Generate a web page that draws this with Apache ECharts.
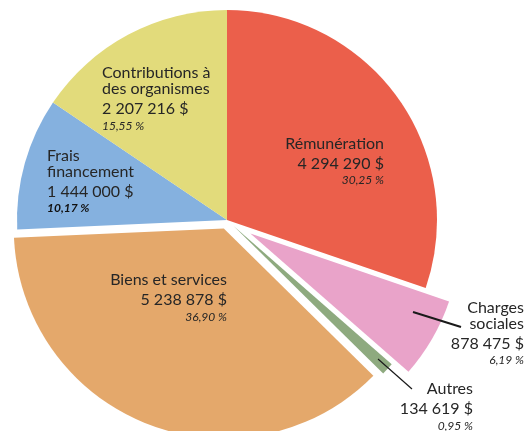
<!DOCTYPE html>
<html><head><meta charset="utf-8">
<script src="https://cdn.jsdelivr.net/npm/echarts@6/dist/echarts.min.js"></script>
<style>html,body{margin:0;padding:0;background:#fff;overflow:hidden}#c{width:531px;height:431px}</style>
</head><body><div id="c"></div>
<script>
// ---- data ----
const categories = ['Rémunération', 'Charges sociales', 'Autres', 'Biens et services', 'Frais financement', 'Contributions à des organismes'];
const values = [4294290, 878475, 134619, 5238878, 1444000, 2207216];
const percentLabels = ['30,25 %', '6,19 %', '0,95 %', '36,90 %', '10,17 %', '15,55 %'];

// ---- styling ----
const colors = ['#EB5F4B', '#E9A3C9', '#8EAA7F', '#E4A86B', '#85B1DF', '#E2DB7B'];
const labelBreaks = { 'Charges sociales': 'Charges\nsociales', 'Frais financement': 'Frais\nfinancement', 'Contributions à des organismes': 'Contributions à\ndes organismes' };
const explodeOffsets = [0, 27, 9, 9, 0, 0];
const PIE_CENTER = [227, 220];
const PIE_RADIUS = 210;
const labelPlacement = [
  { x: 384, y: 135.5, align: 'right' },
  { x: 524, y: 299.5, align: 'right' },
  { x: 473, y: 381, align: 'right' },
  { x: 227, y: 272, align: 'right' },
  { x: 47, y: 147.5, align: 'left' },
  { x: 102, y: 65, align: 'left' }
];
const leaderLines = [
  { x1: 413, y1: 312, x2: 461, y2: 327, width: 2 },
  { x1: 378, y1: 359, x2: 412, y2: 389, width: 1.2 }
];
const boldPct = [false, false, false, false, true, false];
const FONT = 'Lato, "DejaVu Sans", sans-serif';
const TXT = '#262626';

function fmtMoney(v) {
  return String(v).replace(/\B(?=(\d{3})+(?!\d))/g, ' ') + ' $';
}

const total = values.reduce((a, b) => a + b, 0);
let cum = 0;
const midAngles = values.map(v => { const m = (cum + v / 2) / total * Math.PI * 2; cum += v; return m; });

const chart = echarts.init(document.getElementById('c'), null, { renderer: 'canvas' });

const series = categories.map((cat, i) => {
  const pl = labelPlacement[i];
  const off = explodeOffsets[i];
  const center = [PIE_CENTER[0] + off * Math.sin(midAngles[i]), PIE_CENTER[1] - off * Math.cos(midAngles[i])];
  const rich = {
    n: { fontFamily: FONT, fontSize: 16, lineHeight: 16, color: TXT, align: pl.align },
    v: { fontFamily: FONT, fontSize: 16, lineHeight: 24, color: TXT, align: pl.align },
    p: { fontFamily: FONT, fontSize: 12, fontStyle: 'italic', lineHeight: 10, color: TXT, align: pl.align },
    pb: { fontFamily: FONT, fontSize: 12, fontStyle: 'italic', fontWeight: 'bold', lineHeight: 10, color: '#111', align: pl.align }
  };
  return {
    type: 'pie',
    center: center,
    radius: PIE_RADIUS,
    startAngle: 90,
    clockwise: true,
    silent: true,
    animation: false,
    avoidLabelOverlap: false,
    selectedMode: false,
    label: { show: false },
    labelLine: { show: false },
    data: values.map((v, j) => {
      const own = j === i;
      const nm = labelBreaks[categories[j]] || categories[j];
      return {
        name: categories[j],
        value: v,
        itemStyle: { color: own ? colors[j] : 'rgba(0,0,0,0)', borderWidth: 0 },
        label: own ? {
          show: true,
          position: 'inside',
          align: pl.align,
          formatter: () => nm.split('\n').map(s => '{n|' + s + '}').join('\n') +
            '\n{v|' + fmtMoney(v) + '}\n{' + (boldPct[j] ? 'pb' : 'p') + '|' + percentLabels[j] + '}',
          rich: rich
        } : { show: false },
        labelLine: { show: false }
      };
    }),
    labelLayout: (p) => {
      if (p.dataIndex !== i) return {};
      return { x: pl.x, y: pl.y, align: pl.align, verticalAlign: 'top' };
    }
  };
});

chart.setOption({
  backgroundColor: '#fff',
  animation: false,
  series: series,
  graphic: leaderLines.map(l => ({
    type: 'line', silent: true, z: 100,
    shape: { x1: l.x1, y1: l.y1, x2: l.x2, y2: l.y2 },
    style: { stroke: '#1a1a1a', lineWidth: l.width }
  }))
});
</script>
</body></html>
